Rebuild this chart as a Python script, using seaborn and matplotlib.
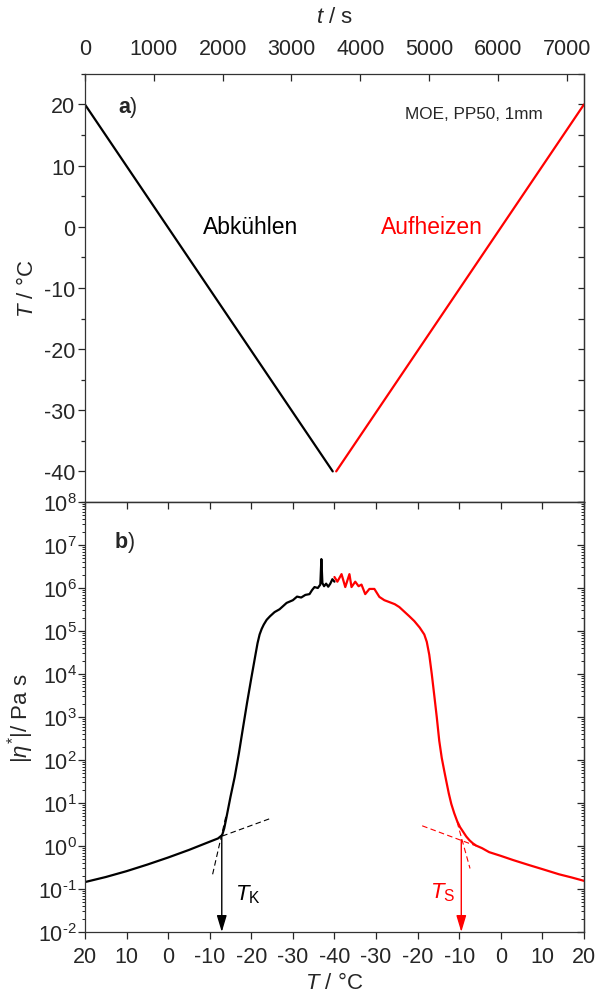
import numpy as np
import pandas as pd
import matplotlib
matplotlib.use("Agg")
import matplotlib.pyplot as plt
from matplotlib.ticker import MultipleLocator, LogLocator, NullFormatter, FuncFormatter
import seaborn as sns

# ---- temperature programme (panel a) ----
time_cool = [0, 3600]          # s
temp_cool = [20, -40]          # °C
time_heat = [3650, 7250]       # s
temp_heat = [-40, 20]          # °C

# ---- complex viscosity vs temperature (panel b) ----
T_cool = [20, 15, 10, 5, 0, -5, -10, -12, -13, -13.5, -14, -15, -16, -17, -18, -19,
          -20, -21, -21.5, -22, -22.5, -23, -23.7, -24.5, -25.6, -26.8, -28.5, -30,
          -31, -32, -33, -34, -34.6, -35.2, -36, -36.6, -36.85, -37.1, -37.5, -38,
          -38.5, -39, -39.5, -40]
eta_cool = [0.145, 0.19, 0.26, 0.37, 0.54, 0.81, 1.26, 1.5, 1.8, 2.6, 4.5, 14, 40,
            140, 560, 2.2e3, 8e3, 2.8e4, 5.2e4, 8.3e4, 1.12e5, 1.41e5, 1.82e5,
            2.2e5, 2.75e5, 3.2e5, 4.5e5, 5.2e5, 6.3e5, 6e5, 6.9e5, 7.2e5, 8.9e5,
            1.05e6, 1.0e6, 1.2e6, 4.7e6, 1.3e6, 1.1e6, 1.26e6, 1.07e6, 1.26e6,
            1.6e6, 1.4e6]

T_heat = [-40, -39.3, -38.3, -37.4, -36.4, -35.9, -35, -34.2, -33.5, -32.6, -31.6,
          -30.4, -29.2, -28, -26.8, -25.5, -24.4, -22, -20.8, -19.5, -18.4, -17.8,
          -17.2, -16.6, -16, -15.4, -14.8, -14.2, -13.6, -13.1, -12.5, -11.9, -11.2,
          -10.5, -9.8, -9, -8.3, -7.5, -6.7, -5.9, -4.5, -2.8, 0, 3, 6.8, 10, 14,
          17, 20]
eta_heat = [1.8e6, 1.4e6, 2.1e6, 1.05e6, 2.1e6, 1.05e6, 1.4e6, 1.1e6, 1.2e6, 7.2e5,
            9.5e5, 9.5e5, 6.2e5, 5.2e5, 4.7e5, 4.2e5, 3.6e5, 2.2e5, 1.7e5, 1.2e5,
            8.3e4, 5.6e4, 2.8e4, 1e4, 3.2e3, 1e3, 280, 112, 56, 32, 16.6, 9.5, 5.8,
            3.8, 2.75, 2.1, 1.66, 1.35, 1.15, 1.02, 0.89, 0.72, 0.59, 0.47, 0.36,
            0.29, 0.22, 0.186, 0.155]

# tangent constructions and characteristic temperatures
tan_K_flat = ([-13, -24.4], [1.7, 4.3])
tan_K_steep = ([-10.7, -14.0], [0.22, 5.5])
tan_S_flat = ([-18.9, -5.9], [2.95, 1.0])
tan_S_steep = ([-10.5, -7.4], [3.6, 0.3])
T_K, eta_K = -12.9, 1.75
T_S, eta_S = -9.5, 1.4

tick_temps = [20, 10, 0, -10, -20, -30, -40, -30, -20, -10, 0, 10, 20]


def pos_cool(T):
    """Position along the unfolded temperature axis for the cooling run."""
    return 20 - np.asarray(T, dtype=float)


def pos_heat(T):
    """Position along the unfolded temperature axis for the heating run."""
    return np.asarray(T, dtype=float) + 100


def decade_label(v, _pos):
    """Power-of-ten label with a short hyphen for negative exponents."""
    n = int(round(np.log10(v)))
    exp = str(n).replace("-", "\u2010")
    return r"$10^{\mathrm{%s}}$" % exp


sns.set_theme(style="ticks")
plt.rcParams["font.family"] = ["Liberation Sans", "DejaVu Sans"]
plt.rcParams["mathtext.fontset"] = "custom"
plt.rcParams["mathtext.rm"] = "Liberation Sans"
plt.rcParams["mathtext.it"] = "Liberation Sans:italic"
plt.rcParams["mathtext.bf"] = "Liberation Sans:bold"
plt.rcParams["axes.unicode_minus"] = False
plt.rcParams["axes.linewidth"] = 0.9

FS = 15.5
RED = "#ff0000"
SPINE = "#333333"

fig = plt.figure(figsize=(5.98, 9.95), dpi=100)
ax_t = fig.add_axes([0.1421, 0.4945, 0.8344, 0.4302])
ax_b = fig.add_axes([0.1421, 0.0623, 0.8344, 0.4322])

for ax in (ax_t, ax_b):
    for s in ax.spines.values():
        s.set_visible(True)
        s.set_linewidth(0.9)
        s.set_color(SPINE)

# ---------------- panel a ----------------
df_c = pd.DataFrame({"t": time_cool, "T": temp_cool})
df_h = pd.DataFrame({"t": time_heat, "T": temp_heat})
sns.lineplot(data=df_c, x="t", y="T", color="black", lw=1.6, ax=ax_t,
             sort=False, estimator=None)
sns.lineplot(data=df_h, x="t", y="T", color=RED, lw=1.6, ax=ax_t,
             sort=False, estimator=None)

ax_t.set_xlim(0, 7250)
ax_t.set_ylim(-45, 25)
ax_t.xaxis.tick_top()
ax_t.xaxis.set_label_position("top")
ax_t.set_xticks(np.arange(0, 7001, 1000))
ax_t.set_yticks(np.arange(-40, 21, 10))
ax_t.yaxis.set_minor_locator(MultipleLocator(5))
ax_t.tick_params(axis="x", which="major", direction="in", length=5, width=0.9,
                 top=True, bottom=False, labeltop=True, labelbottom=False,
                 labelsize=FS, pad=10.5)
ax_t.tick_params(axis="y", which="major", direction="out", length=5, width=0.9,
                 left=True, right=False, labelsize=FS, pad=2)
ax_t.tick_params(axis="y", which="minor", direction="out", length=3, width=0.9,
                 left=True, right=False)
ax_t.set_xlabel("$t$ / s", fontsize=FS + 0.5, labelpad=12)
ax_t.set_ylabel("$T$ / °C", fontsize=FS + 0.5, labelpad=4)

sec_ty = ax_t.secondary_yaxis("right")
sec_ty.set_yticks(np.arange(-40, 21, 10))
sec_ty.yaxis.set_minor_locator(MultipleLocator(5))
sec_ty.tick_params(which="both", direction="in", length=4, width=0.9,
                   labelright=False)
sec_ty.spines["right"].set_color(SPINE)

ax_t.text(0.086, 0.923, r"$\mathbf{a}$)", transform=ax_t.transAxes,
          fontsize=FS, ha="center", va="center")
ax_t.text(0.78, 0.9065, "MOE, PP50, 1mm", transform=ax_t.transAxes,
          fontsize=12.3, ha="center", va="center")
ax_t.text(2400, 0, "Abkühlen", color="black", fontsize=16.5,
          ha="center", va="center")
ax_t.text(5040, 0, "Aufheizen", color=RED, fontsize=16.5,
          ha="center", va="center")

# ---------------- panel b ----------------
df_vc = pd.DataFrame({"u": pos_cool(T_cool), "eta": eta_cool})
df_vh = pd.DataFrame({"u": pos_heat(T_heat), "eta": eta_heat})
sns.lineplot(data=df_vc, x="u", y="eta", color="black", lw=1.6, ax=ax_b,
             sort=False, estimator=None)
sns.lineplot(data=df_vh, x="u", y="eta", color=RED, lw=1.6, ax=ax_b,
             sort=False, estimator=None)

dash = (0, (5, 3))
ax_b.plot(pos_cool(tan_K_flat[0]), tan_K_flat[1], color="black", lw=0.8, ls=dash)
ax_b.plot(pos_cool(tan_K_steep[0]), tan_K_steep[1], color="black", lw=0.8, ls=dash)
ax_b.plot(pos_heat(tan_S_flat[0]), tan_S_flat[1], color=RED, lw=0.8, ls=dash)
ax_b.plot(pos_heat(tan_S_steep[0]), tan_S_steep[1], color=RED, lw=0.8, ls=dash)

ax_b.set_yscale("log")
ax_b.set_xlim(0, 120)
ax_b.set_ylim(1e-2, 1e8)

arrow_kw = dict(arrowstyle="-|>,head_length=1.0,head_width=0.3", lw=1.0,
                mutation_scale=10, shrinkA=0, shrinkB=0)
ax_b.annotate("", xy=(pos_cool(T_K), 1e-2), xytext=(pos_cool(T_K), eta_K),
              arrowprops=dict(color="black", **arrow_kw))
ax_b.annotate("", xy=(pos_heat(T_S), 1e-2), xytext=(pos_heat(T_S), eta_S),
              arrowprops=dict(color=RED, **arrow_kw))
ax_b.text(pos_cool(T_K) + 6.2, 0.076, r"$T_\mathrm{K}$", fontsize=16,
          ha="center", va="center", color="black")
ax_b.text(pos_heat(T_S) - 4.6, 0.085, r"$T_\mathrm{S}$", fontsize=16,
          ha="center", va="center", color=RED)
ax_b.text(0.08, 0.907, r"$\mathbf{b}$)", transform=ax_b.transAxes,
          fontsize=FS, ha="center", va="center")

ax_b.set_xticks(np.arange(0, 121, 10))
ax_b.set_xticklabels([str(v) for v in tick_temps])
ax_b.yaxis.set_major_locator(LogLocator(base=10, numticks=20))
ax_b.yaxis.set_major_formatter(FuncFormatter(decade_label))
ax_b.yaxis.set_minor_locator(LogLocator(base=10, subs=np.arange(2, 10), numticks=20))
ax_b.yaxis.set_minor_formatter(NullFormatter())
ax_b.tick_params(axis="x", which="major", direction="out", length=5, width=0.9,
                 top=False, bottom=True, labelsize=FS, pad=5)
ax_b.tick_params(axis="y", which="major", direction="out", length=5, width=0.9,
                 left=True, right=False, labelsize=FS, pad=1)
ax_b.tick_params(axis="y", which="minor", direction="out", length=2.5, width=0.7,
                 left=True, right=False)
ax_b.set_xlabel("$T$ / °C", fontsize=FS + 0.5, labelpad=4)
ax_b.set_ylabel(r"$|\eta^{*}|$/ Pa s", fontsize=FS + 0.5, labelpad=1)

sec_bx = ax_b.secondary_xaxis("top")
sec_bx.set_xticks(np.arange(0, 121, 10))
sec_bx.tick_params(direction="in", length=5, width=0.9, labeltop=False)
sec_by = ax_b.secondary_yaxis("right")
sec_by.yaxis.set_major_locator(LogLocator(base=10, numticks=20))
sec_by.yaxis.set_minor_locator(LogLocator(base=10, subs=np.arange(2, 10), numticks=20))
sec_by.yaxis.set_major_formatter(NullFormatter())
sec_by.yaxis.set_minor_formatter(NullFormatter())
sec_by.tick_params(which="major", direction="in", length=5, width=0.9,
                   labelright=False)
sec_by.tick_params(which="minor", direction="in", length=2.5, width=0.7,
                   labelright=False)
for sec in (sec_bx, sec_by):
    for s in sec.spines.values():
        s.set_color(SPINE)

fig.savefig("out.png", dpi=100)
